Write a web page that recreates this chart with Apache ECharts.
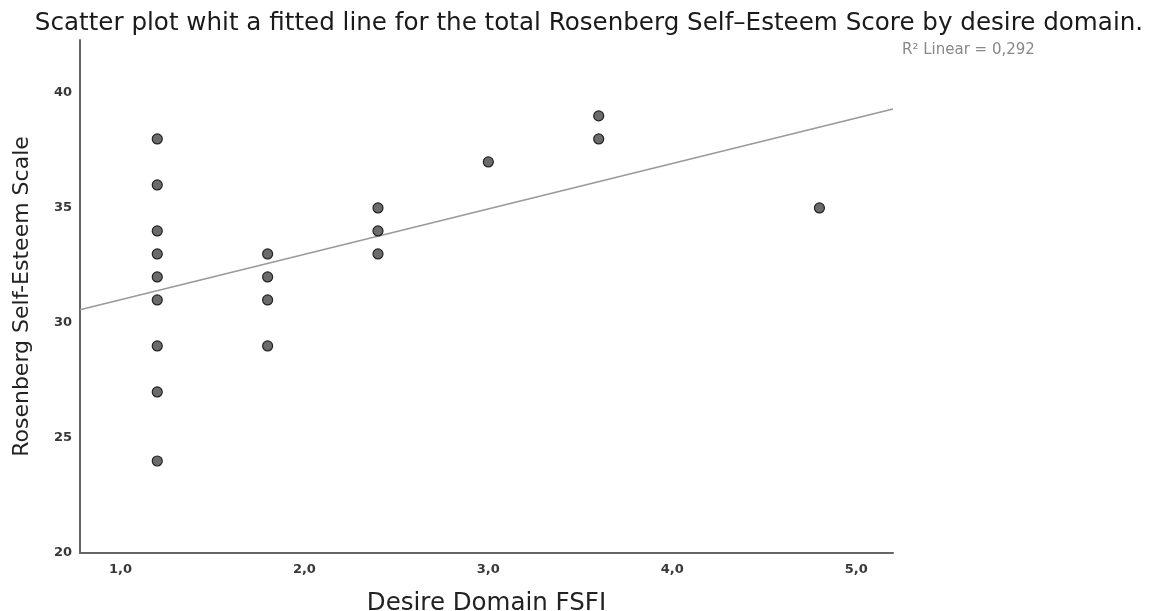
<!DOCTYPE html>
<html>
<head>
<meta charset="utf-8">
<script src="https://cdn.jsdelivr.net/npm/echarts@6/dist/echarts.min.js"></script>
<style>html,body{margin:0;padding:0;background:#fff}#c{width:1158px;height:611px}</style>
</head>
<body>
<div id="c"></div>
<script>
// Data
const xValues = [1.2,1.2,1.2,1.2,1.2,1.2,1.2,1.2,1.2, 1.8,1.8,1.8,1.8, 2.4,2.4,2.4, 3.0, 3.6,3.6, 4.8];
const yValues = [38,36,34,33,32,31,29,27,24, 33,32,31,29, 35,34,33, 37, 39,38, 35];
const xTicks = [1,2,3,4,5];
const yTicks = [20,25,30,35,40];
const xLabels = ['1,0','2,0','3,0','4,0','5,0'];
const r2Text = 'R\u00B2 Linear = 0,292';

const X_MIN = 0.78, X_MAX = 5.2, Y_MIN = 20, Y_MAX = 42.3;

// least-squares fit from the points
const n = xValues.length;
const mx = xValues.reduce((a,b)=>a+b,0)/n;
const my = yValues.reduce((a,b)=>a+b,0)/n;
let sxy=0, sxx=0;
for (let i=0;i<n;i++){ sxy += (xValues[i]-mx)*(yValues[i]-my); sxx += (xValues[i]-mx)**2; }
const slope = sxy/sxx, icpt = my - slope*mx;
const fitLine = [[X_MIN, icpt+slope*X_MIN],[X_MAX, icpt+slope*X_MAX]];

const FONT = 'DejaVu Sans';
const chart = echarts.init(document.getElementById('c'));
chart.setOption({
  animation:false,
  backgroundColor:'#fff',
  title:{
    text:'Scatter plot whit a fitted line for the total Rosenberg Self\u2013Esteem Score by desire domain.',
    left:584, textAlign:'center', top:6,
    textStyle:{fontFamily:FONT, fontSize:24.6, fontWeight:'normal', color:'#1a1a1a'}
  },
  graphic:[{type:'text', left:902, top:43, style:{text:r2Text, fontSize:15, fill:'#888', fontFamily:FONT}}],
  grid:{left:80, right:265, top:40, bottom:58, outerBoundsMode:'none', containLabel:false},
  xAxis:{
    type:'value', min:X_MIN, max:X_MAX,
    name:'Desire Domain FSFI', nameLocation:'middle', nameGap:38,
    nameTextStyle:{fontSize:24.5, color:'#222', fontFamily:FONT},
    axisLine:{show:true, lineStyle:{color:'#666', width:2}},
    axisTick:{show:false},
    splitLine:{show:false},
    axisLabel:{customValues:xTicks, formatter:(v)=>xLabels[xTicks.indexOf(v)] ?? '', color:'#383838', fontSize:13, fontWeight:'bold', margin:10, fontFamily:FONT}
  },
  yAxis:{
    type:'value', min:Y_MIN, max:Y_MAX,
    name:'Rosenberg Self-Esteem Scale', nameLocation:'middle', nameGap:47, nameRotate:90,
    nameTextStyle:{fontSize:22, color:'#222', fontFamily:FONT},
    axisLine:{show:true, lineStyle:{color:'#666', width:2}},
    axisTick:{show:false},
    splitLine:{show:false},
    axisLabel:{customValues:yTicks, color:'#383838', fontSize:13, fontWeight:'bold', margin:8, fontFamily:FONT}
  },
  series:[
    {type:'line', data:fitLine, symbol:'none', lineStyle:{color:'#999', width:1.5}, silent:true, z:1},
    {type:'scatter', data:xValues.map((x,i)=>[x,yValues[i]]), symbol:'circle', symbolSize:10,
     itemStyle:{color:'#6b6b6b', borderColor:'#222', borderWidth:1.2, opacity:1}, z:2}
  ]
});
</script>
</body>
</html>
